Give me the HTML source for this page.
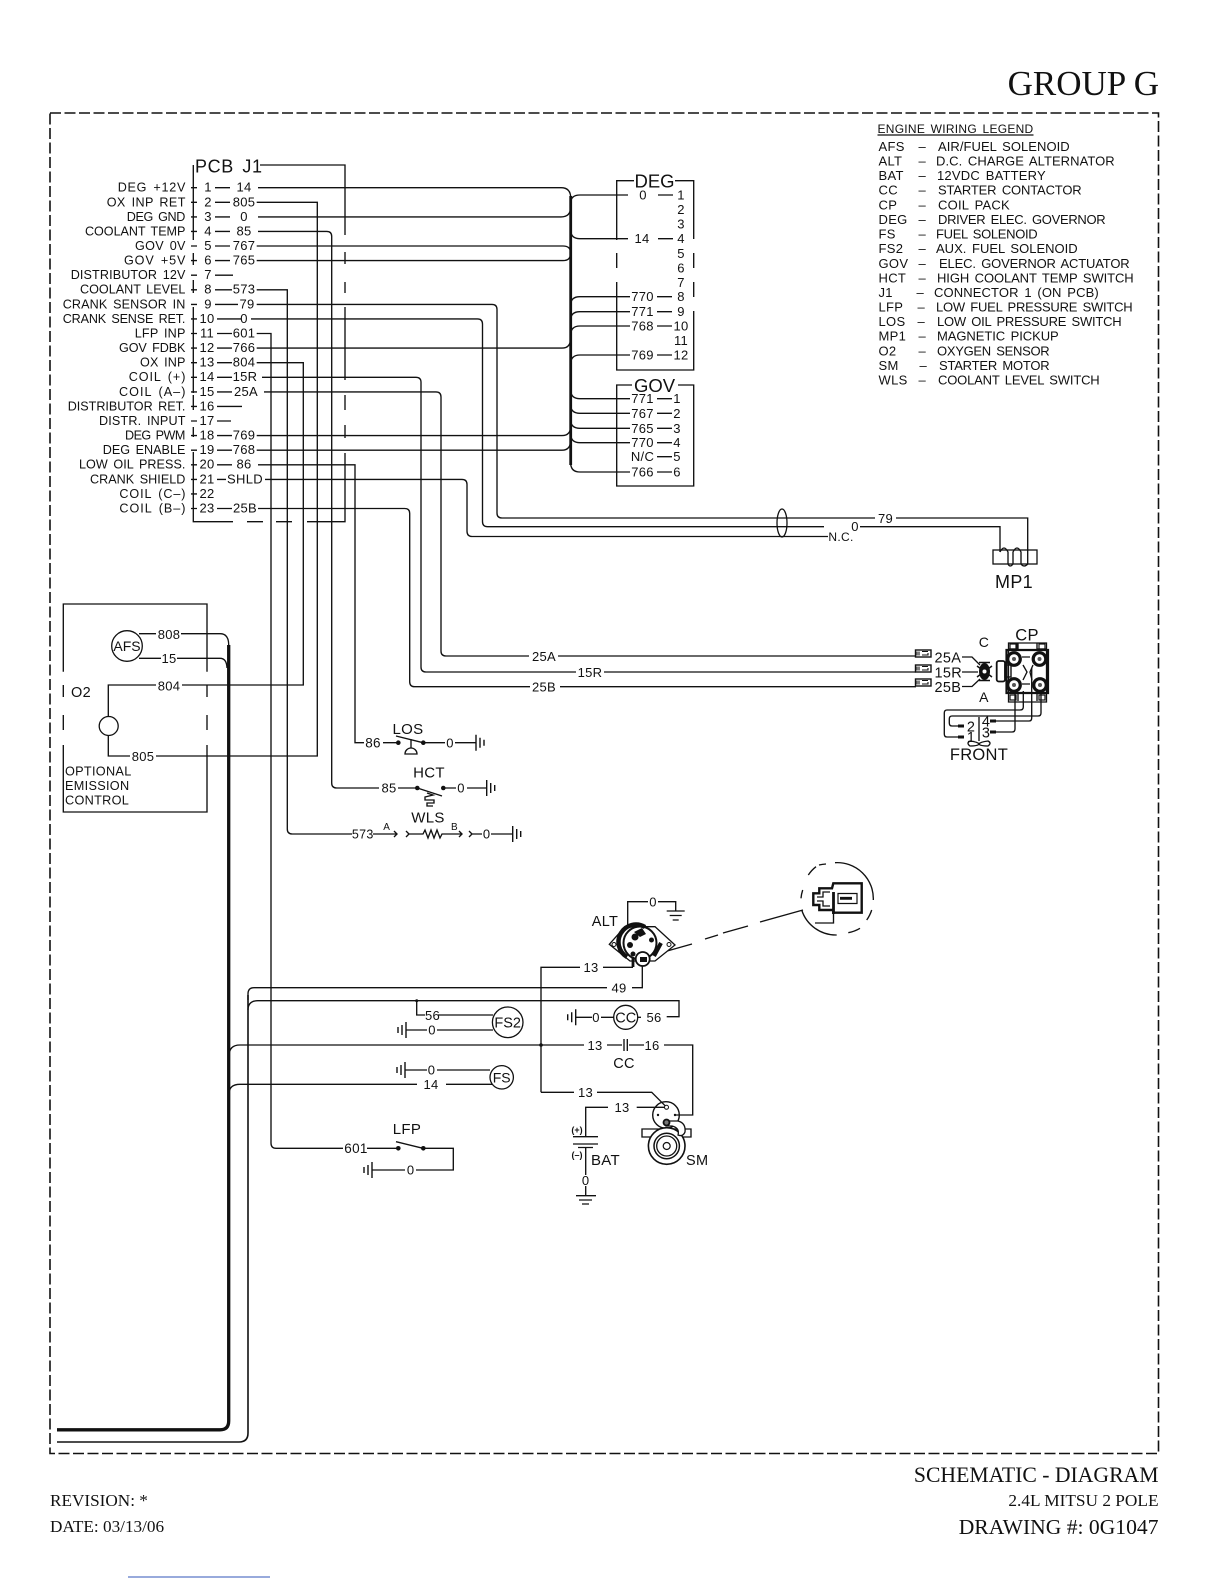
<!DOCTYPE html>
<html><head><meta charset="utf-8"><style>
html,body{margin:0;padding:0;background:#fff}
svg{display:block;font-size:13px}
text{font-family:"Liberation Sans",sans-serif;fill:#111;letter-spacing:.3px;word-spacing:2px;stroke:none}
.m{text-anchor:middle}.r{text-anchor:end}
.s{font-family:"Liberation Serif",serif;fill:#111;letter-spacing:0;word-spacing:0}
.w{fill:none;stroke:#111;stroke-width:1.35}
</style></head><body>
<svg width="1224" height="1584" viewBox="0 0 1224 1584" xmlns="http://www.w3.org/2000/svg">
<defs>
<g id="gr" fill="none" stroke="#111" stroke-width="1.4"><path d="M0-8V8M4-5V5M8-3V3"/></g>
<g id="gl" fill="none" stroke="#111" stroke-width="1.4"><path d="M0-8V8M-4-5V5M-8-3V3"/></g>
<g id="gd" fill="none" stroke="#111" stroke-width="1.3"><path d="M-9 0H9M-6 4.500H6M-3 9H3"/></g>
</defs>
<text class="s r" x="1159" y="95" style="font-size:35px">GROUP G</text>
<rect x="50" y="113" width="1108.500" height="1340.500" fill="none" stroke="#111" stroke-width="1.600" stroke-dasharray="11 3.500"/>

<!-- legend -->
<g transform="translate(-1.500,-1)">
<text x="879" y="134" style="font-size:12px" textLength="156">ENGINE WIRING LEGEND</text>
<path class="w" d="M879 136H1035"/>
<g>
<text x="880" y="152">AFS</text><text x="880" y="166.500">ALT</text><text x="880" y="181">BAT</text><text x="880" y="195.700">CC</text><text x="880" y="210.300">CP</text><text x="880" y="225">DEG</text><text x="880" y="239.500">FS</text><text x="880" y="254">FS2</text><text x="880" y="268.800">GOV</text><text x="880" y="283.400">HCT</text><text x="880" y="298">J1</text><text x="880" y="312.500">LFP</text><text x="880" y="327">LOS</text><text x="880" y="341.700">MP1</text><text x="880" y="356.300">O2</text><text x="880" y="371">SM</text><text x="880" y="385.500">WLS</text>
<text x="920" y="152">–</text><text x="920" y="166.500">–</text><text x="920" y="181">–</text><text x="920" y="195.700">–</text><text x="920" y="210.300">–</text><text x="920" y="225">–</text><text x="920" y="239.500">–</text><text x="920" y="254">–</text><text x="920" y="268.800">–</text><text x="920" y="283.400">–</text><text x="918" y="298">–</text><text x="919" y="312.500">–</text><text x="919" y="327">–</text><text x="920" y="341.700">–</text><text x="920" y="356.300">–</text><text x="921" y="371">–</text><text x="920" y="385.500">–</text>
<text x="939.500" y="152" textLength="132">AIR/FUEL SOLENOID</text>
<text x="937.500" y="166.500" textLength="179">D.C. CHARGE ALTERNATOR</text>
<text x="938.500" y="181" textLength="109">12VDC BATTERY</text>
<text x="939.500" y="195.700" textLength="144">STARTER CONTACTOR</text>
<text x="939.500" y="210.300" textLength="72">COIL PACK</text>
<text x="939.500" y="225" textLength="168">DRIVER ELEC. GOVERNOR</text>
<text x="937.500" y="239.500" textLength="102">FUEL SOLENOID</text>
<text x="937.500" y="254" textLength="142">AUX. FUEL SOLENOID</text>
<text x="940.500" y="268.800" textLength="191">ELEC. GOVERNOR ACTUATOR</text>
<text x="938.500" y="283.400" textLength="197">HIGH COOLANT TEMP SWITCH</text>
<text x="935.500" y="298" textLength="165">CONNECTOR 1 (ON PCB)</text>
<text x="937.500" y="312.500" textLength="197">LOW FUEL PRESSURE SWITCH</text>
<text x="938.500" y="327" textLength="185">LOW OIL PRESSURE SWITCH</text>
<text x="938.500" y="341.700" textLength="122">MAGNETIC PICKUP</text>
<text x="938.500" y="356.300" textLength="113">OXYGEN SENSOR</text>
<text x="940.500" y="371" textLength="111">STARTER MOTOR</text>
<text x="939.500" y="385.500" textLength="162">COOLANT LEVEL SWITCH</text>
</g>
</g>

<!-- PCB labels -->
<text x="195" y="172.500" style="font-size:18px;letter-spacing:.6px;word-spacing:3px">PCB J1</text>
<g transform="translate(0,-.7)" style="font-size:12.600px">
<text x="185.700" y="192.300" class="r" textLength="68">DEG +12V</text><text x="185.700" y="207" class="r" textLength="79">OX INP RET</text><text x="185.700" y="221.500" class="r" textLength="59">DEG GND</text><text x="185.700" y="236" class="r" textLength="100.700">COOLANT TEMP</text><text x="185.700" y="250.600" class="r" textLength="50.700">GOV 0V</text><text x="185.700" y="265.200" class="r" textLength="61.700">GOV +5V</text><text x="185.700" y="279.800" class="r" textLength="115">DISTRIBUTOR 12V</text><text x="185.700" y="294.400" class="r" textLength="105.700">COOLANT LEVEL</text><text x="185.700" y="309" class="r" textLength="123">CRANK SENSOR IN</text><text x="185.700" y="323.500" class="r" textLength="123">CRANK SENSE RET.</text><text x="185.700" y="338.100" class="r" textLength="51">LFP INP</text><text x="185.700" y="352.700" class="r" textLength="66.700">GOV FDBK</text><text x="185.700" y="367.300" class="r" textLength="45.700">OX INP</text><text x="185.700" y="381.900" class="r" textLength="57">COIL (+)</text><text x="185.700" y="396.500" class="r" textLength="66.700">COIL (A–)</text><text x="185.700" y="411" class="r" textLength="118">DISTRIBUTOR RET.</text><text x="185.700" y="425.600" class="r" textLength="86.700">DISTR. INPUT</text><text x="185.700" y="440.200" class="r" textLength="60.700">DEG PWM</text><text x="185.700" y="454.800" class="r" textLength="83">DEG ENABLE</text><text x="185.700" y="469.400" class="r" textLength="106.700">LOW OIL PRESS.</text><text x="185.700" y="484" class="r" textLength="95.700">CRANK SHIELD</text><text x="185.700" y="498.500" class="r" textLength="66.300">COIL (C–)</text><text x="185.700" y="513.100" class="r" textLength="66.300">COIL (B–)</text>
</g>
<g transform="translate(0,-.7)">
<text class="m" x="208" y="192.300">1</text><text class="m" x="208" y="207">2</text><text class="m" x="208" y="221.500">3</text><text class="m" x="208" y="236">4</text><text class="m" x="208" y="250.600">5</text><text class="m" x="208" y="265.200">6</text><text class="m" x="208" y="279.800">7</text><text class="m" x="208" y="294.400">8</text><text class="m" x="208" y="309">9</text><text class="m" x="207" y="323.500">10</text><text class="m" x="207" y="338.100">11</text><text class="m" x="207" y="352.700">12</text><text class="m" x="207" y="367.300">13</text><text class="m" x="207" y="381.900">14</text><text class="m" x="207" y="396.500">15</text><text class="m" x="207" y="411">16</text><text class="m" x="207" y="425.600">17</text><text class="m" x="207" y="440.200">18</text><text class="m" x="207" y="454.800">19</text><text class="m" x="207" y="469.400">20</text><text class="m" x="207" y="484">21</text><text class="m" x="207" y="498.500">22</text><text class="m" x="207" y="513.100">23</text>
<text class="m" x="244" y="192.300">14</text><text class="m" x="244" y="207">805</text><text class="m" x="244" y="221.500">0</text><text class="m" x="244" y="236">85</text><text class="m" x="244" y="250.600">767</text><text class="m" x="244" y="265.200">765</text><text class="m" x="244" y="294.400">573</text><text class="m" x="247" y="309">79</text><text class="m" x="244" y="323.500">0</text><text class="m" x="244" y="338.100">601</text><text class="m" x="244" y="352.700">766</text><text class="m" x="244" y="367.300">804</text><text class="m" x="245" y="381.900">15R</text><text class="m" x="246" y="396.500">25A</text><text class="m" x="244" y="440.200">769</text><text class="m" x="244" y="454.800">768</text><text class="m" x="244" y="469.400">86</text><text class="m" x="245" y="484">SHLD</text><text class="m" x="245" y="513.100">25B</text>
</g>
<path class="w" d="M215 187.700H230M215 202.300H230M215 216.900H230M215 231.400H230M215 246H230M215 260.600H230M215 275.200H233M215 289.800H232M215 304.400H238M217 318.900H241M217 333.500H232M217 348.100H232M217 362.700H232M217 377.300H232M217 391.900H232M217 406.400H242M217 421H231M217 435.600H232M217 450.200H232M217 464.800H232M217 479.400H226M217 508.500H232"/>
<path class="w" d="M191 187.700h6M191 202.300h6M191 216.900h6M191 231.400h6M191 246h6M191 260.600h6M191 275.200h6M191 289.800h6M191 304.400h6M191 318.900h6M191 333.500h6M191 348.100h6M191 362.700h6M191 377.300h6M191 391.900h6M191 406.400h6M191 421h6M191 435.600h6M191 450.200h6M191 464.800h6M191 479.400h6M191 493.900h6M191 508.500h6"/>
<!-- shield outline -->
<path class="w" d="M193.300 165V240M193.300 253V265M193.300 280V293M193.300 307V393M193.300 395V410M193.300 427V437M193.300 452V521.700H233M247 521.700H263M276 521.700H292M307 521.700H345V453M345 438V425M345 410V395M345 380V307M345 293V282M345 264V252M345 235V165H260"/>
<!-- vertical runs -->
<path class="w" d="M256.700 202.300H317.300V756H156"/>
<path class="w" d="M258 231.400H326.700Q331.700 231.400 331.700 236.400V783Q331.700 788 336.700 788H379"/>
<path class="w" d="M256.700 289.800H287.300V829Q287.300 834 292.300 834H352"/>
<path class="w" d="M256.700 333.500H271V1143Q271 1148.300 276 1148.300H343"/>
<path class="w" d="M256.700 362.700H303.300V685H182"/>
<path class="w" d="M258 464.800H355V742.700H364"/>
<!-- DEG/GOV bus runs -->
<path class="w" d="M258 187.700H561Q570.700 187.700 570.700 198M258 216.900H561Q570.700 216.900 570.700 207"/>
<path class="w" d="M256.700 246H563Q570.700 246 570.700 253Q570.700 260.600 563 260.600H256.700"/>
<path class="w" d="M256.700 348.100H562Q570.700 348.100 570.700 338M256.700 435.600H562Q570.700 435.600 570.700 426M256.700 450.200H562Q570.700 450.200 570.700 440"/>
<path fill="none" stroke="#111" stroke-width="2.800" d="M570.700 196V465"/>
<path class="w" d="M570.700 203Q570.700 195 580 195H628M570.700 230Q570.700 238.700 580 238.700H628M570.700 305Q570.700 296.700 580 296.700H630M570.700 320Q570.700 311.700 580 311.700H630M570.700 335Q570.700 326 580 326H630M570.700 364Q570.700 355 580 355H630M570.700 390Q570.700 398.700 580 398.700H630M570.700 405Q570.700 413.300 580 413.300H630M570.700 420Q570.700 428.300 580 428.300H630M570.700 434Q570.700 442.700 580 442.700H630M570.700 463Q570.700 472 580 472H630"/>
<!-- DEG box -->
<path class="w" d="M634 180.700H616.700V240M616.700 253V268M616.700 282V370H693.700V311M693.700 297V282M693.700 268V253M693.700 239V180.700H675"/>
<text class="m" x="654.500" y="187.500" style="font-size:18.500px;letter-spacing:0">DEG</text>
<g>
<text class="m" x="643" y="199.500">0</text><text class="m" x="681" y="199.500">1</text><text class="m" x="681" y="214">2</text><text class="m" x="681" y="228.500">3</text><text class="m" x="642" y="243.200">14</text><text class="m" x="681" y="243.200">4</text><text class="m" x="681" y="258">5</text><text class="m" x="681" y="272.500">6</text><text class="m" x="681" y="287">7</text><text class="m" x="642.500" y="301.200">770</text><text class="m" x="681" y="301.200">8</text><text class="m" x="642.500" y="316.200">771</text><text class="m" x="681" y="316.200">9</text><text class="m" x="642.500" y="330.500">768</text><text class="m" x="681" y="330.500">10</text><text class="m" x="681" y="345">11</text><text class="m" x="642.500" y="359.500">769</text><text class="m" x="681" y="359.500">12</text>
</g>
<path class="w" d="M658 195H673M658 238.700H673M657 296.700H672M657 311.700H672M657 326H672M657 355H672"/>
<!-- GOV box -->
<path class="w" d="M632 385H616.700V486H693.700V385H678"/>
<text class="m" x="654.500" y="392" style="font-size:18.500px;letter-spacing:0">GOV</text>
<g>
<text class="m" x="642.500" y="403.200">771</text><text class="m" x="677" y="403.200">1</text><text class="m" x="642.500" y="417.800">767</text><text class="m" x="677" y="417.800">2</text><text class="m" x="642.500" y="432.800">765</text><text class="m" x="677" y="432.800">3</text><text class="m" x="642.500" y="447.200">770</text><text class="m" x="677" y="447.200">4</text><text class="m" x="642.500" y="461.200">N/C</text><text class="m" x="677" y="461.200">5</text><text class="m" x="642.500" y="476.500">766</text><text class="m" x="677" y="476.500">6</text>
</g>
<path class="w" d="M657 398.700H672M657 413.300H672M657 428.300H672M657 442.700H672M657 456.700H672M657 472H672"/>

<!-- MP1 runs -->
<path class="w" d="M256.700 304.400H492Q497 304.400 497 309.400V513Q497 518 502 518H875M896 518H1027.700V564"/>
<path class="w" d="M251 318.900H477.500Q482.500 318.900 482.500 324V521.500Q482.500 526.700 487.500 526.700H824M860 526.700H1000V552"/>
<path class="w" d="M265 479.400H462Q467 479.400 467 484.400V531Q467 536.500 472 536.500H828"/>
<ellipse cx="782" cy="523" rx="5" ry="14" fill="none" stroke="#111" stroke-width="1.300"/>
<text class="m" x="841" y="541" style="font-size:12px">N.C.</text>
<text class="m" x="855" y="531">0</text>
<text class="m" x="885.500" y="523">79</text>
<rect x="993" y="550" width="44" height="14" fill="none" stroke="#111" stroke-width="1.300"/>
<path class="w" d="M1000 552Q1004 544 1008 552V562M1008 552V564Q1010 568 1013 564V552Q1017 544 1021 552V564Q1024 568 1027.700 564"/>
<text class="m" x="1014" y="588" style="font-size:18px">MP1</text>

<!-- coil runs -->
<path class="w" d="M262 377.300H416Q421 377.300 421 382.300V667Q421 672 426 672H576M604 672H916"/>
<path class="w" d="M264 391.900H436Q441 391.900 441 397V651Q441 656 446 656H529M558 656H916"/>
<path class="w" d="M258 508.500H404.700Q409.700 508.500 409.700 513.500V681.700Q409.700 686.700 414.700 686.700H530M560 686.700H916"/>
<text class="m" x="544" y="661">25A</text><text class="m" x="590" y="677">15R</text><text class="m" x="544" y="691.500">25B</text>
<g fill="#fff" stroke="#111" stroke-width="1.400">
<rect x="915.500" y="650" width="15.500" height="7"/><rect x="915.500" y="665" width="15.500" height="7"/><rect x="915.500" y="679" width="15.500" height="7"/>
<path d="M917 651.500V655.500M919 651.500V655.500M922 651.500H928M922 655H928V653M917 666.500V670.500M919 666.500V670.500M922 666.500H928M922 670H928V668M917 680.500V684.500M919 680.500V684.500M922 680.500H928M922 684H928V682" fill="none" stroke-width="1.100"/>
</g>
<g style="font-size:14.500px"><text x="934.500" y="662.500">25A</text><text x="934.500" y="677.500">15R</text><text x="934.500" y="692">25B</text></g>
<path class="w" d="M962 657H972L980 665M962 672H978M962 686.500H972L980 679"/>
<ellipse cx="984.500" cy="671.500" rx="5.500" ry="8.500" fill="#111"/><path d="M979 662.500H990M979 680.500H990M977 666L992 677M992 666L977 677" stroke="#111" stroke-width="1.500"/>
<circle cx="984.500" cy="671.500" r="2" fill="#fff"/>
<text class="m" x="984" y="647" style="font-size:14px">C</text><text class="m" x="984" y="702" style="font-size:14px">A</text>
<text class="m" x="1027" y="640.500" style="font-size:16.500px">CP</text>
<rect x="996.700" y="661" width="8.300" height="20.500" rx="2" fill="none" stroke="#111" stroke-width="1.800"/><rect x="1005" y="665" width="6" height="12" fill="none" stroke="#111" stroke-width="1.400"/>
<path d="M1008.500 643H1046.500V702H1008.500Z" fill="none" stroke="#111" stroke-width="1.300"/>
<path d="M1006.500 650H1048V693H1006.500Z" fill="none" stroke="#111" stroke-width="2.200"/>
<path class="w" d="M1018 643V650H1037V643M1018 693V701M1037 693V701M1008.500 649H1017V643M1037 649H1046.500M1023 665L1027 672L1023 680M1033 665L1030 672L1032 680M1022 657H1030M1022 684H1030"/>
<g fill="none" stroke="#111" stroke-width="1.200"><rect x="1010" y="644" width="6" height="5"/><rect x="1039" y="644" width="6" height="5"/><rect x="1010" y="695" width="6" height="5"/><rect x="1039" y="695" width="6" height="5"/></g>
<g fill="#fff" stroke="#111" stroke-width="3.200"><circle cx="1014" cy="659" r="6.300"/><circle cx="1039.500" cy="659" r="6.300"/><circle cx="1014" cy="685" r="6.300"/><circle cx="1040" cy="685" r="6.300"/></g>
<g fill="#555"><circle cx="1014" cy="659" r="2"/><circle cx="1039.500" cy="659" r="2"/><circle cx="1014" cy="685" r="2"/><circle cx="1040" cy="685" r="2"/></g>
<path class="w" d="M1015 691V729Q1015 732 1012 732H995M1031.700 668V718Q1031.700 721 1029 721H995M1023.300 691V707Q1023.300 710 1020 710H947Q944.300 710 944.300 713V734Q944.300 737 947 737H960M1041 691V713Q1041 716 1038 716H952Q949.300 716 949.300 719V723Q949.300 726 952 726H960"/>
<path d="M958 726h6M958 737h6M990 721h6M990 732h6" stroke="#111" stroke-width="3"/>
<g style="font-size:14.500px"><text class="m" x="971" y="731.500">2</text><text class="m" x="971" y="742">1</text><text class="m" x="986" y="726.500">4</text><text class="m" x="986" y="737.500">3</text></g>
<path class="w" d="M979 717V741M970 741Q978 742 979 744Q980 742 988 741Q992 743 988 746Q980 746 979 744Q978 746 970 746Q966 743 970 741"/>
<text class="m" x="979" y="760" style="font-size:16.500px">FRONT</text>

<!-- O2 / AFS -->
<path class="w" d="M63.300 671.700V604H207V671.700M63.300 685V697M63.300 715V730M63.300 745V812H207V745M207 685V697M207 715V730"/>
<circle cx="127" cy="646" r="15.300" fill="none" stroke="#111" stroke-width="1.300"/>
<text class="m" x="127" y="651" style="font-size:14px;letter-spacing:0">AFS</text>
<path class="w" d="M139 633.700H156M181 633.700H220Q228.700 633.700 228.700 645M139 658.300H161M177 658.300H220Q226.700 658.300 227 668"/>
<text class="m" x="169" y="639">808</text><text class="m" x="169" y="663">15</text>
<text class="m" x="169" y="690.500">804</text><text class="m" x="143" y="761">805</text>
<path class="w" d="M156 685H108.300V716.500M108.300 735.500V756H130"/>
<circle cx="108.700" cy="726" r="9.500" fill="none" stroke="#111" stroke-width="1.300"/>
<text x="71" y="697" style="font-size:14.500px">O2</text>
<g style="font-size:12.700px"><text x="65" y="775.500">OPTIONAL</text><text x="65" y="790">EMISSION</text><text x="65" y="804.500">CONTROL</text></g>

<!-- LOS HCT WLS -->
<text class="m" x="408" y="734" style="font-size:15px">LOS</text>
<path class="w" d="M383 742.700H398M396 736L423 742.700M411 739V748M423 742.700H445M455 742.700H476"/>
<path class="w" d="M405 754A6 6 0 0 1 417 754Z"/>
<circle cx="398.300" cy="742.700" r="2.300" fill="#111"/><circle cx="423.300" cy="742.700" r="2.300" fill="#111"/>
<text class="m" x="373" y="747.500" style="font-size:13.500px">86</text><text class="m" x="450" y="747.500">0</text><use href="#gr" x="476" y="742.700"/>
<text class="m" x="429" y="777.500" style="font-size:15px">HCT</text>
<text class="m" x="389" y="792.500">85</text>
<path class="w" d="M398 788H417M417.300 788L442 796M443.300 788H456M467 788H486.700M427 793L433 795L425 797V800H434V803H427V806H433"/>
<circle cx="417.300" cy="788" r="2.300" fill="#111"/><circle cx="443.300" cy="788" r="2.300" fill="#111"/>
<text class="m" x="461" y="792.500">0</text><use href="#gr" x="486.700" y="788"/>
<text class="m" x="428" y="822.500" style="font-size:15px">WLS</text>
<text class="m" x="362.700" y="838.500" style="font-size:12.500px">573</text>
<path class="w" d="M373 834H397M394 831L397 834L394 837M406 831L409 834L406 837M409 834H423L425 830L428 838L431 830L434 838L437 830L440 838L442 834H461.700M459 831L462 834L459 837M469 831L472 834L469 837M472 834H482M491 834H512.700"/>
<text class="m" x="386.700" y="830" style="font-size:10px">A</text><text class="m" x="454.500" y="830" style="font-size:10px">B</text>
<text class="m" x="486.700" y="838.500">0</text><use href="#gr" x="512.700" y="834"/>

<!-- detail circle -->
<path class="w" d="M835 862.700A36 36 0 0 1 873.300 900M871.700 910A36 36 0 0 1 866.700 920M860 928.300A36 36 0 0 1 848.300 932.700M836.700 935A36 36 0 0 1 801.700 910M801 898.300A36 36 0 0 1 802.700 890M808.300 875A36 36 0 0 1 816 866.700M819 865A36 36 0 0 1 826 864"/>
<path fill="none" stroke="#111" stroke-width="2.400" d="M813.300 893.300H819.300V888.300H832L833.300 883.300H861.700V912.700H833.300V910H819.300V905H813.300Z"/>
<path fill="none" stroke="#111" stroke-width="1.300" d="M817 897H823V892H830M817 901H823V906H830"/>
<path fill="none" stroke="#111" stroke-width="2.800" d="M833.500 892V914M840 898.300H852"/>
<path fill="none" stroke="#111" stroke-width="1.200" d="M838 893.500H857V903.500H838Z"/>
<path class="w" d="M833.500 914V923H815"/>
<path class="w" d="M660 953L692 944M705 939L718 935M723 933L748 926M760 922L803 910"/>

<!-- ALT -->
<text class="m" x="605" y="926" style="font-size:14.500px">ALT</text>
<path class="w" d="M627.700 928V901.700H648M658 901.700H675.700V911"/>
<text class="m" x="653" y="906.500">0</text><use href="#gd" x="675.700" y="911"/>
<path d="M609.300 944.300L625 926.700H655L675 945L655 961H630Z" fill="#fff" stroke="#111" stroke-width="1.300"/>
<circle cx="614" cy="944.500" r="2" fill="none" stroke="#111"/><circle cx="669" cy="944.500" r="2" fill="none" stroke="#111"/>
<circle cx="640" cy="943" r="16.500" fill="#fff" stroke="#111" stroke-width="2"/>
<path d="M627 957A17 17 0 0 1 645 927" fill="none" stroke="#111" stroke-width="4.500"/>
<path d="M634 932L642 928L646 934L640 937Z" fill="#111"/>
<circle cx="635" cy="937" r="3.500" fill="#111"/><circle cx="651.500" cy="940" r="2.500" fill="#111"/><circle cx="633" cy="954" r="2.500" fill="#111"/><circle cx="630" cy="945" r="3" fill="#111"/>
<path d="M654 956L661 943" stroke="#111" stroke-width="4"/>
<circle cx="642.700" cy="959" r="7" fill="#fff" stroke="#111" stroke-width="1.800"/><path d="M640 957H647V962H640Z" fill="#111"/>
<path d="M633 957V967" stroke="#111" stroke-width="2.800"/>
<path class="w" d="M541 1092.300V967.300H580M603 967.300H633"/>
<text class="m" x="591" y="972">13</text>
<path class="w" d="M248 1000V994Q248 987.700 254 987.700H607M632 987.700H642.300V966"/>
<text class="m" x="619" y="992.500">49</text>
<path class="w" d="M248 1010Q248 1000.700 258 1000.700H679V1016.700H666.700"/>
<circle cx="416.700" cy="1000.700" r="1.500" fill="#111"/>
<path class="w" d="M416.700 1000.700V1015H425M438 1015H493"/>
<text class="m" x="432.500" y="1020">56</text>
<circle cx="507.700" cy="1022.300" r="15.300" fill="none" stroke="#111" stroke-width="1.300"/>
<text class="m" x="507.700" y="1027.500" style="font-size:14.500px;letter-spacing:0">FS2</text>
<path class="w" d="M406 1030H427M437 1030H493"/>
<use href="#gl" x="406" y="1030"/><text class="m" x="432" y="1034.500">0</text>
<use href="#gl" x="575.700" y="1017.300"/>
<path class="w" d="M575.700 1017.300H592M601 1017.300H614"/>
<text class="m" x="596" y="1022">0</text>
<circle cx="625.700" cy="1017.300" r="12" fill="none" stroke="#111" stroke-width="1.300"/>
<text class="m" x="625.700" y="1022.500" style="font-size:14.500px;letter-spacing:0">CC</text>
<path class="w" d="M637.700 1017.300H641"/><text class="m" x="654" y="1022">56</text>

<path class="w" d="M229 1056Q229 1045 240 1045H584M607 1045H622M629 1045H644M664 1045H692.700V1115H675M624 1039V1051M627.300 1039V1051"/>
<circle cx="541" cy="1045" r="1.800" fill="#111"/>
<text class="m" x="595" y="1050">13</text><text class="m" x="652" y="1050">16</text>
<text class="m" x="624" y="1068" style="font-size:14.500px">CC</text>
<path class="w" d="M405 1070H427M437 1070H490"/><use href="#gl" x="405" y="1070"/><text class="m" x="431.500" y="1074.500">0</text>
<path class="w" d="M229 1094Q229 1084.300 240 1084.300H417M446 1084.300H492"/><text class="m" x="431" y="1089">14</text>
<circle cx="501.700" cy="1077.300" r="11.700" fill="none" stroke="#111" stroke-width="1.300"/>
<text class="m" x="501.700" y="1082.500" style="font-size:14px;letter-spacing:0">FS</text>
<path class="w" d="M541 1092.300H574M597 1092.300H651.700L666.700 1107.300"/>
<text class="m" x="585.500" y="1097">13</text>
<path class="w" d="M608 1107.300H585.700V1136M636.700 1107.300H666"/>
<text class="m" x="622" y="1112">13</text>
<circle cx="666" cy="1115" r="13.300" fill="none" stroke="#111" stroke-width="1.400"/>
<circle cx="666.500" cy="1107.300" r="2" fill="#fff" stroke="#111"/><circle cx="658" cy="1115" r="1.200" fill="#111"/><circle cx="675" cy="1115" r="1.200" fill="#111"/>
<path class="w" d="M642 1129H691V1137H642Z"/>
<circle cx="666.700" cy="1146" r="18.300" fill="#fff" stroke="#111" stroke-width="1.600"/>
<path fill="#fff" stroke="#111" stroke-width="1.300" d="M666 1121H678Q686 1123 685 1132Q683 1137 678 1135Q680 1128 672 1126H666Z"/>
<circle cx="666.500" cy="1122.500" r="3" fill="#777" stroke="#111" stroke-width="1.800"/>
<circle cx="666.700" cy="1146" r="12.700" fill="none" stroke="#111" stroke-width="1.500"/><circle cx="666.700" cy="1146" r="10" fill="none" stroke="#111" stroke-width="1.300"/><circle cx="666.700" cy="1146" r="3.500" fill="none" stroke="#111" stroke-width="1.200"/>
<text x="686" y="1165" style="font-size:14.500px">SM</text>
<path class="w" d="M573 1136.700H598M573 1144H598M578 1147.500H593M585.700 1147.500V1175M585.700 1186V1195.700M576 1195.700H596M579 1200H592M582 1204H589"/>
<text class="m" x="577" y="1133" style="font-size:9px;font-weight:bold;letter-spacing:0">(+)</text>
<text class="m" x="577" y="1158" style="font-size:9px;font-weight:bold;letter-spacing:0">(–)</text>
<text x="591" y="1165" style="font-size:15px">BAT</text>
<text class="m" x="585.700" y="1185">0</text>

<!-- LFP -->
<text class="m" x="407" y="1134" style="font-size:15px">LFP</text>
<text class="m" x="356" y="1153" style="font-size:13.500px">601</text>
<path class="w" d="M367 1148.300H398M396 1141.700L423 1148.300M423.300 1148.300H453.300V1170H416M405 1170H372"/>
<circle cx="398.300" cy="1148.300" r="2.300" fill="#111"/><circle cx="423.300" cy="1148.300" r="2.300" fill="#111"/>
<use href="#gl" x="372" y="1170"/><text class="m" x="410.700" y="1174.500">0</text>

<!-- thick bus -->
<path fill="none" stroke="#111" stroke-width="3.300" d="M228.700 645V1421Q228.700 1429.800 220 1429.800H57"/>
<path fill="none" stroke="#111" stroke-width="1.600" d="M248 995V1433Q248 1442 239 1442H57"/>

<!-- footer -->
<text class="s r" x="1158.500" y="1482" style="font-size:21.700px">SCHEMATIC - DIAGRAM</text>
<text class="s r" x="1158.500" y="1506" style="font-size:17.300px">2.4L MITSU 2 POLE</text>
<text class="s r" x="1158.500" y="1534" style="font-size:21.600px">DRAWING #: 0G1047</text>
<text class="s" x="50" y="1506" style="font-size:17.200px">REVISION: *</text>
<text class="s" x="50" y="1532" style="font-size:17.200px">DATE: 03/13/06</text>
<path d="M128 1577H270" stroke="#5b78c8" stroke-width="1.200"/>
</svg>
</body></html>
